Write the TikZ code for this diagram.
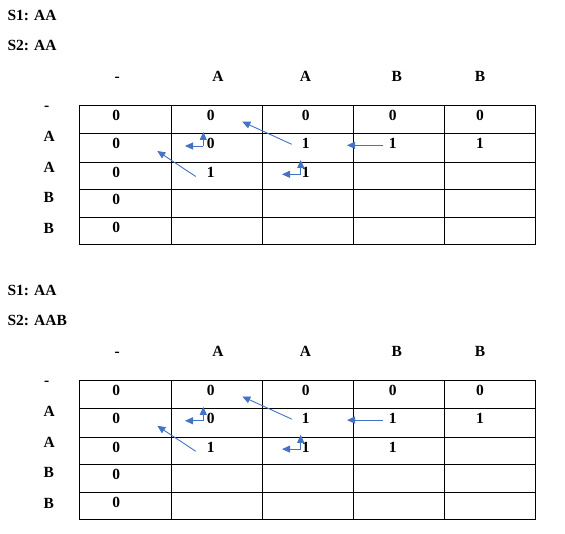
\documentclass[tikz,border=0pt]{standalone}
\usepackage{fontspec}
\setmainfont{Liberation Serif}
\usetikzlibrary{arrows.meta}
\definecolor{arrowblue}{HTML}{4472C4}
\tikzset{
  txt/.style={anchor=base, inner sep=0pt, font=\fontsize{15.5}{18}\selectfont\bfseries},
  lefttxt/.style={txt, anchor=base west},
  gridline/.style={line width=1pt, draw=black},
  arr/.style={draw=arrowblue, line width=0.9pt, -{Triangle[length=8pt,width=7pt]}},
}
\newcommand\dptable[4]{%
\begin{scope}[shift={(0,#2)}]
  % titles
  \node[lefttxt] (#1s1) at (7.3,20.7) {S1: AA};
  \node[lefttxt] (#1s2) at (7.3,50.5) {S2: #3};
  % column headers
  \node[txt] (#1h0) at (117.3,81.7) {-};
  \node[txt] (#1h1) at (218,81.7) {A};
  \node[txt] (#1h2) at (305.5,81.7) {A};
  \node[txt] (#1h3) at (396.7,81.7) {B};
  \node[txt] (#1h4) at (480,81.7) {B};
  % row headers
  \node[lefttxt] (#1r0) at (44,111) {-};
  \node[lefttxt] (#1r1) at (43.5,141.7) {A};
  \node[lefttxt] (#1r2) at (43.5,172.5) {A};
  \node[lefttxt] (#1r3) at (43.5,202.7) {B};
  \node[lefttxt] (#1r4) at (43.5,233.3) {B};
  % grid
  \foreach \gx in {79.3,171.7,262.5,353.5,444.3,535.7}
    \draw[gridline] (\gx,106) -- (\gx,245);
  \foreach \gy in {106,133.7,162.5,189.5,217.3,245}
    \draw[gridline] (79.3,\gy) -- (535.7,\gy);
  % cell values
  \node[txt] (#1c00) at (116.3,121) {0};
  \node[txt] (#1c01) at (210.7,121) {0};
  \node[txt] (#1c02) at (305.7,121) {0};
  \node[txt] (#1c03) at (392.7,121) {0};
  \node[txt] (#1c04) at (480,121) {0};
  \node[txt] (#1c10) at (116.3,148.7) {0};
  \node[txt] (#1c11) at (210.7,148.7) {0};
  \node[txt] (#1c12) at (305.7,148.7) {1};
  \node[txt] (#1c13) at (392.7,148.7) {1};
  \node[txt] (#1c14) at (480,148.7) {1};
  \node[txt] (#1c20) at (116.3,177.5) {0};
  \node[txt] (#1c21) at (210.7,177.5) {1};
  \node[txt] (#1c22) at (305.7,177.5) {1};
  #4
  \node[txt] (#1c30) at (116.3,204.5) {0};
  \node[txt] (#1c40) at (116.3,232.3) {0};
  % arrow coordinates
  \coordinate (#1d1s) at (291.7,144.3);
  \coordinate (#1d1e) at (242.3,121.7);
  \coordinate (#1hs) at (383.3,145.3);
  \coordinate (#1he) at (347,145.3);
  \coordinate (#1e1c) at (203.3,146);
  \coordinate (#1e1u) at (203.3,132);
  \coordinate (#1e1l) at (185,146);
  \coordinate (#1e2c) at (300.7,174.3);
  \coordinate (#1e2u) at (300.7,160);
  \coordinate (#1e2l) at (282,174.3);
  \coordinate (#1d2s) at (195.7,176.5);
  \coordinate (#1d2e) at (157.3,151);
  \draw[arr] (#1d1s) -- (#1d1e);
  \draw[arr] (#1hs) -- (#1he);
  \draw[arr] (#1e1c) -- (#1e1u);
  \draw[arr] (#1e1c) -- (#1e1l);
  \draw[arr] (#1e2c) -- (#1e2u);
  \draw[arr] (#1e2c) -- (#1e2l);
  \draw[arr] (#1d2s) -- (#1d2e);
\end{scope}}
\begin{document}
\begin{tikzpicture}[x=1pt,y=-1pt]
  \useasboundingbox (0,0) rectangle (565,534);
  \dptable{ta}{0}{AA}{}
  \dptable{tb}{274.8}{AAB}{\node[txt] (tbc23) at (392.7,177.5) {1};}
\end{tikzpicture}
\end{document}
